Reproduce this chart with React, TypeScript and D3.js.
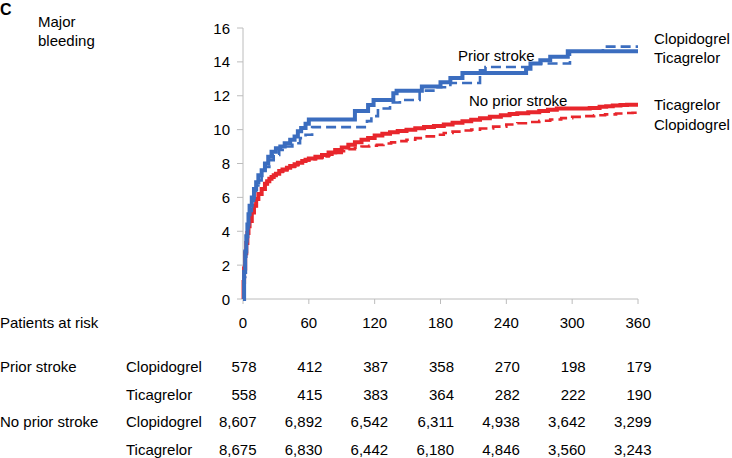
import React from "react";
import * as d3 from "d3";

const xTicks = [0, 60, 120, 180, 240, 300, 360];
const yTicks = [0, 2, 4, 6, 8, 10, 12, 14, 16];

// Prior stroke – Ticagrelor (solid blue)
const priorTica: [number, number][] = [
  [0, 0], [1, 1.6], [2, 2.8], [3, 3.7], [4, 4.4], [5, 5.0], [6, 5.5], [8, 6.0], [10, 6.5],
  [12, 6.9], [14, 7.3], [17, 7.6], [20, 8.0], [23, 8.4], [26, 8.7], [30, 8.9], [34, 9.0],
  [38, 9.2], [43, 9.4], [47, 9.6], [50, 9.9], [53, 10.1], [57, 10.35], [60, 10.6],
  [102, 11.1], [114, 11.45], [119, 11.75], [137, 12.15], [140, 12.3], [163, 12.55],
  [180, 12.8], [189, 13.05], [200, 13.35], [258, 13.6], [262, 13.9], [271, 14.1],
  [280, 14.3], [296, 14.62], [360, 14.62],
];
// Prior stroke – Clopidogrel (dashed blue)
const priorClop: [number, number][] = [
  [0, 0], [1, 1.3], [2, 2.5], [3, 3.4], [4, 4.1], [5, 4.7], [6, 5.2], [8, 5.8], [10, 6.3],
  [12, 6.7], [14, 7.0], [17, 7.4], [20, 7.8], [24, 8.2], [28, 8.5], [33, 8.8], [38, 9.0],
  [45, 9.2], [52, 9.5], [57, 9.7], [63, 10.15], [113, 10.5], [117, 10.8], [123, 11.25],
  [134, 11.6], [143, 11.75], [161, 12.3], [175, 12.5], [189, 12.75], [216, 13.5],
  [221, 13.7], [265, 13.9], [298, 14.6], [328, 14.9], [360, 14.9],
];
// No prior stroke – Ticagrelor (solid red)
const noPriorTica: [number, number][] = [
  [0, 0], [0.5, 1.0], [1, 1.8], [2, 2.7], [3, 3.3], [4, 3.9], [5, 4.3], [6, 4.6], [8, 5.1],
  [10, 5.5], [12, 5.9], [14, 6.2], [17, 6.5], [20, 6.8], [22, 6.95], [24, 7.1], [26, 7.2],
  [28, 7.3], [30, 7.4], [33, 7.55], [36, 7.65], [40, 7.75], [43, 7.85], [47, 7.95],
  [50, 8.05], [54, 8.15], [57, 8.22], [60, 8.3], [66, 8.4], [72, 8.5], [78, 8.65],
  [84, 8.8], [90, 8.95], [96, 9.1], [102, 9.25], [108, 9.4], [114, 9.5], [120, 9.65],
  [127, 9.75], [134, 9.85], [141, 9.92], [149, 10.0], [157, 10.08], [165, 10.15],
  [174, 10.22], [183, 10.3], [191, 10.4], [200, 10.5], [208, 10.58], [216, 10.67],
  [225, 10.76], [235, 10.85], [243, 10.92], [250, 10.96], [260, 11.03], [270, 11.1],
  [278, 11.18], [286, 11.25], [316, 11.27], [325, 11.35], [331, 11.38], [337, 11.42],
  [344, 11.45], [350, 11.47], [360, 11.47],
];
// No prior stroke – Clopidogrel (dashed red)
const noPriorClop: [number, number][] = [
  [0, 0], [0.5, 1.1], [1, 1.9], [2, 2.8], [3, 3.4], [4, 3.9], [5, 4.3], [6, 4.6], [8, 5.1],
  [10, 5.5], [12, 5.9], [14, 6.2], [17, 6.5], [20, 6.8], [22, 6.95], [24, 7.1], [26, 7.2],
  [28, 7.3], [30, 7.38], [33, 7.5], [36, 7.6], [40, 7.7], [43, 7.8], [47, 7.9], [50, 8.0],
  [54, 8.1], [57, 8.18], [60, 8.25], [66, 8.32], [72, 8.42], [78, 8.52], [84, 8.62],
  [90, 8.72], [96, 8.85], [102, 8.93], [108, 9.0], [115, 9.05], [122, 9.1], [128, 9.18],
  [135, 9.25], [142, 9.32], [149, 9.4], [157, 9.5], [165, 9.6], [174, 9.7], [183, 9.8],
  [191, 9.88], [200, 9.95], [208, 10.0], [216, 10.07], [228, 10.18], [240, 10.3],
  [250, 10.38], [260, 10.45], [270, 10.52], [280, 10.6], [290, 10.68], [300, 10.75],
  [310, 10.8], [320, 10.85], [330, 10.9], [340, 10.95], [348, 10.98], [355, 11.0],
  [360, 11.0],
];

const riskGroups = ["Prior stroke", "", "No prior stroke", ""];
const riskArms = ["Clopidogrel", "Ticagrelor", "Clopidogrel", "Ticagrelor"];
const riskCounts = [
  ["578", "412", "387", "358", "270", "198", "179"],
  ["558", "415", "383", "364", "282", "222", "190"],
  ["8,607", "6,892", "6,542", "6,311", "4,938", "3,642", "3,299"],
  ["8,675", "6,830", "6,442", "6,180", "4,846", "3,560", "3,243"],
];

const BLUE = "#3b6dbf";
const RED = "#e8262c";
const AXIS = "#bcbcbc";
const FONT = "'Liberation Sans', Arial, sans-serif";

export default function App() {
  const x = d3.scaleLinear().domain([0, 360]).range([243, 638]);
  const y = d3.scaleLinear().domain([0, 16]).range([299, 28]);
  const line = d3
    .line<[number, number]>()
    .x((d) => x(d[0]))
    .y((d) => y(d[1]))
    .curve(d3.curveStepAfter);

  const rowY = [371.5, 399.5, 427, 455];

  return (
    <svg
      width={732}
      height={458}
      style={{ position: "absolute", left: 0, top: 0, background: "#fff" }}
      fontFamily={FONT}
    >
      <text x={0} y={15} fontSize={16} fontWeight="bold" fill="#000">C</text>
      <text x={38} y={27} fontSize={15} fill="#000">Major</text>
      <text x={38} y={46} fontSize={15} fill="#000">bleeding</text>

      {/* y axis */}
      <line x1={x(0)} x2={x(0)} y1={y(16)} y2={y(0)} stroke={AXIS} strokeWidth={1} />
      {yTicks.map((t) => (
        <g key={"y" + t}>
          <line x1={x(0) - 6} x2={x(0)} y1={y(t)} y2={y(t)} stroke={AXIS} />
          <text x={230} y={y(t) + 5.5} fontSize={15} textAnchor="end" fill="#000">{t}</text>
        </g>
      ))}
      {/* x axis */}
      <line x1={x(0)} x2={x(360)} y1={y(0)} y2={y(0)} stroke={AXIS} strokeWidth={1} />
      {xTicks.map((t) => (
        <g key={"x" + t}>
          <line x1={x(t)} x2={x(t)} y1={y(0)} y2={y(0) + 5} stroke={AXIS} />
          <text x={x(t)} y={327.5} fontSize={15} textAnchor="middle" fill="#000">{t}</text>
        </g>
      ))}

      {/* curves */}
      <path d={line(noPriorClop) || ""} fill="none" stroke={RED} strokeWidth={2.6} strokeDasharray="10,5" />
      <path d={line(noPriorTica) || ""} fill="none" stroke={RED} strokeWidth={4} />
      <path d={line(priorClop) || ""} fill="none" stroke={BLUE} strokeWidth={2.6} strokeDasharray="10,5" />
      <path d={line(priorTica) || ""} fill="none" stroke={BLUE} strokeWidth={4} />

      {/* curve labels */}
      <text x={458} y={61} fontSize={15} fill="#000">Prior stroke</text>
      <text x={469} y={106} fontSize={15} fill="#000">No prior stroke</text>
      <text x={654} y={44} fontSize={15} fill="#000">Clopidogrel</text>
      <text x={654} y={63} fontSize={15} fill="#000">Ticagrelor</text>
      <text x={654} y={110} fontSize={15} fill="#000">Ticagrelor</text>
      <text x={654} y={130} fontSize={15} fill="#000">Clopidogrel</text>

      {/* patients at risk */}
      <text x={0} y={327.5} fontSize={15} fill="#000">Patients at risk</text>
      {riskArms.map((arm, i) => (
        <g key={"r" + i}>
          {riskGroups[i] && (
            <text x={0} y={rowY[i]} fontSize={15} fill="#000">{riskGroups[i]}</text>
          )}
          <text x={126} y={rowY[i]} fontSize={15} fill="#000">{arm}</text>
          {riskCounts[i].map((c, j) => (
            <text key={j} x={x(xTicks[j]) + 13.5} y={rowY[i]} fontSize={15} textAnchor="end" fill="#000">
              {c}
            </text>
          ))}
        </g>
      ))}
    </svg>
  );
}
